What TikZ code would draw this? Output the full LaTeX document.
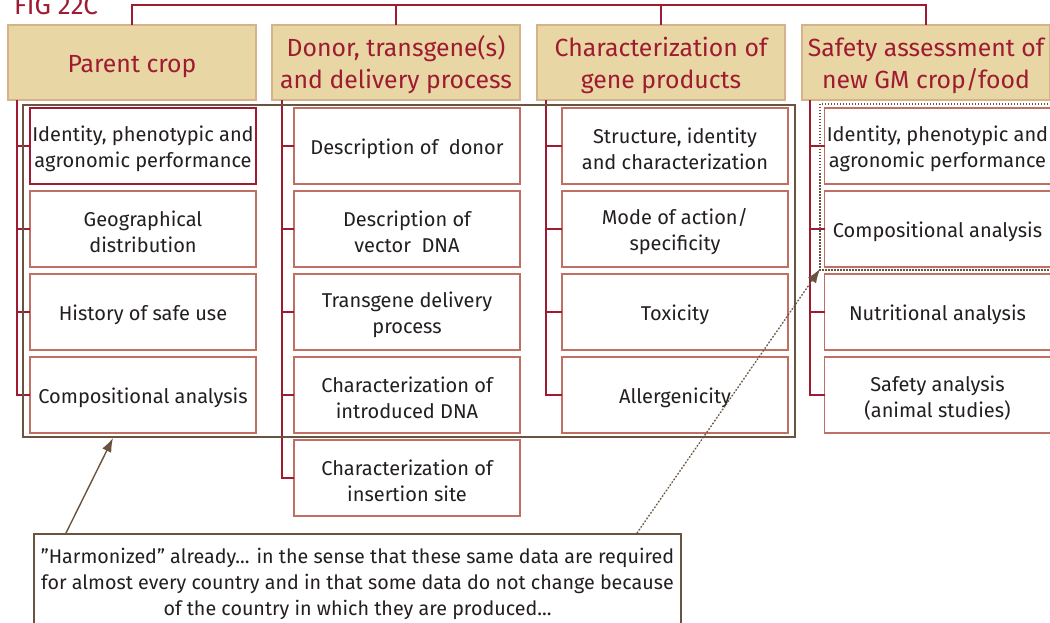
\documentclass[tikz,border=0pt]{standalone}
\usepackage{fontspec}
\setmainfont{Fira Sans}
\usetikzlibrary{positioning,arrows.meta}
\definecolor{figred}{RGB}{158,27,50}
\definecolor{headfill}{RGB}{232,214,164}
\definecolor{headline}{RGB}{214,178,140}
\definecolor{itemline}{RGB}{192,112,98}
\definecolor{framebrown}{RGB}{104,84,64}
\definecolor{textgrey}{RGB}{35,31,32}
\tikzset{
  head/.style={draw=headline, fill=headfill, line width=1.2pt, outer sep=0pt,
    minimum width=248pt, minimum height=75pt, inner sep=2pt, align=center,
    text=figred, font=\fontsize{24.8}{32}\selectfont,
    execute at begin node={\rule{0pt}{24.5pt}}},
  headtwo/.style={head, execute at begin node={\rule{0pt}{57.5pt}}},
  item/.style={draw=itemline, fill=white, line width=1.2pt, outer sep=0pt,
    minimum width=226pt, minimum height=76pt, inner sep=1pt, align=center,
    text=textgrey, font=\fontsize{20}{26}\selectfont,
    execute at begin node={\rule{0pt}{21.5pt}}},
  itemtwo/.style={item, execute at begin node={\rule{0pt}{48pt}}},
  itemfirst/.style={itemtwo, draw=figred},
  bus/.style={draw=figred, line width=1.8pt},
  frame/.style={draw=framebrown, line width=1.8pt},
  dotframe/.style={draw=framebrown, line width=1.5pt, dash pattern=on 1.5pt off 1.5pt},
  note/.style={draw=framebrown, fill=white, line width=1.8pt, minimum width=647pt,
    minimum height=96pt, align=center, text=textgrey, font=\fontsize{19.7}{26}\selectfont,
    execute at begin node={\rule{0pt}{71pt}}},
  callout/.style={draw=framebrown, fill=framebrown, line width=1.4pt, -{Latex[length=14pt,width=10pt]}},
  dotcallout/.style={callout, dash pattern=on 1.4pt off 2pt}
}
\begin{document}
\begin{tikzpicture}[x=1pt,y=-1pt]
\useasboundingbox (0,0) rectangle (1050,623);
% title
\node[anchor=base west, inner sep=0pt, text=figred, font=\fontsize{26}{30}\selectfont] (fig) at (14,15) {FIG 22C};
% headers
\node[head] (h1) at (132,62.5) {Parent crop};
\node[headtwo] (h2) at (396,62.5) {Donor, transgene(s)\\and delivery process};
\node[headtwo] (h3) at (661,62.5) {Characterization of\\gene products};
\node[headtwo] (h4) at (926,62.5) {Safety assessment of\\new GM crop/food};
\coordinate (top) at (0,5);
\draw[bus] (h1.north) |- (top -| h4.north) -- (h4.north);
\draw[bus] (h2.north) -- (h2.north |- top);
\draw[bus] (h3.north) -- (h3.north |- top);
% parent crop
\node[itemfirst] (a1) at (143,146) {Identity, phenotypic and\\agronomic performance};
\node[itemtwo, below=7pt of a1] (a2) {Geographical\\distribution};
\node[item, below=7pt of a2] (a3) {History of safe use};
\node[item, below=7pt of a3] (a4) {Compositional analysis};
% donor
\node[item] (b1) at (407,146) {Description of\ \ donor};
\node[itemtwo, below=7pt of b1] (b2) {Description of\\vector\ \ DNA};
\node[itemtwo, below=7pt of b2] (b3) {Transgene delivery\\process};
\node[itemtwo, below=7pt of b3] (b4) {Characterization of\\introduced DNA};
\node[itemtwo, below=7pt of b4] (b5) {Characterization of\\insertion site};
% gene products
\node[itemtwo] (c1) at (675,146) {Structure, identity\\and characterization};
\node[itemtwo, below=7pt of c1] (c2) {Mode of action/\\specificity};
\node[item, below=7pt of c2] (c3) {Toxicity};
\node[item, below=7pt of c3] (c4) {Allergenicity};
% safety assessment
\node[itemtwo] (d1) at (937.5,146) {Identity, phenotypic and\\agronomic performance};
\node[item, below=7pt of d1] (d2) {Compositional analysis};
\node[item, below=7pt of d2] (d3) {Nutritional analysis};
\node[itemtwo, below=7pt of d3] (d4) {Safety analysis\\(animal studies)};
% side buses
\coordinate (sa) at ([xshift=9pt]h1.south west);
\coordinate (sb) at ([xshift=10pt]h2.south west);
\coordinate (sc) at ([xshift=9pt]h3.south west);
\coordinate (sd) at ([xshift=8pt]h4.south west);
\draw[bus] (sa) |- (a4.west);
\draw[bus] (a1.west) -- (a1.west -| sa);
\draw[bus] (a2.west) -- (a2.west -| sa);
\draw[bus] (a3.west) -- (a3.west -| sa);
\draw[bus] (sb) |- (b5.west);
\draw[bus] (b1.west) -- (b1.west -| sb);
\draw[bus] (b2.west) -- (b2.west -| sb);
\draw[bus] (b3.west) -- (b3.west -| sb);
\draw[bus] (b4.west) -- (b4.west -| sb);
\draw[bus] (sc) |- (c4.west);
\draw[bus] (c1.west) -- (c1.west -| sc);
\draw[bus] (c2.west) -- (c2.west -| sc);
\draw[bus] (c3.west) -- (c3.west -| sc);
\draw[bus] (sd) |- (d4.west);
\draw[bus] (d1.west) -- (d1.west -| sd);
\draw[bus] (d2.west) -- (d2.west -| sd);
\draw[bus] (d3.west) -- (d3.west -| sd);
% frames
\draw[frame] (23,105) rectangle (795,437);
\draw[dotframe] (820,104) rectangle (1053,270);
% note
\node[note, anchor=north] (note) at (357.5,533) {”Harmonized” already... in the sense that these same data are required\\for almost every country and in that some data do not change because\\of the country in which they are produced...};
\coordinate (n1) at (66,533);
\coordinate (t1) at (113,438);
\coordinate (n2) at (637,533);
\coordinate (t2) at (820,269);
\draw[callout] (n1) -- (t1);
\draw[dotcallout] (n2) -- (t2);
\end{tikzpicture}
\end{document}
